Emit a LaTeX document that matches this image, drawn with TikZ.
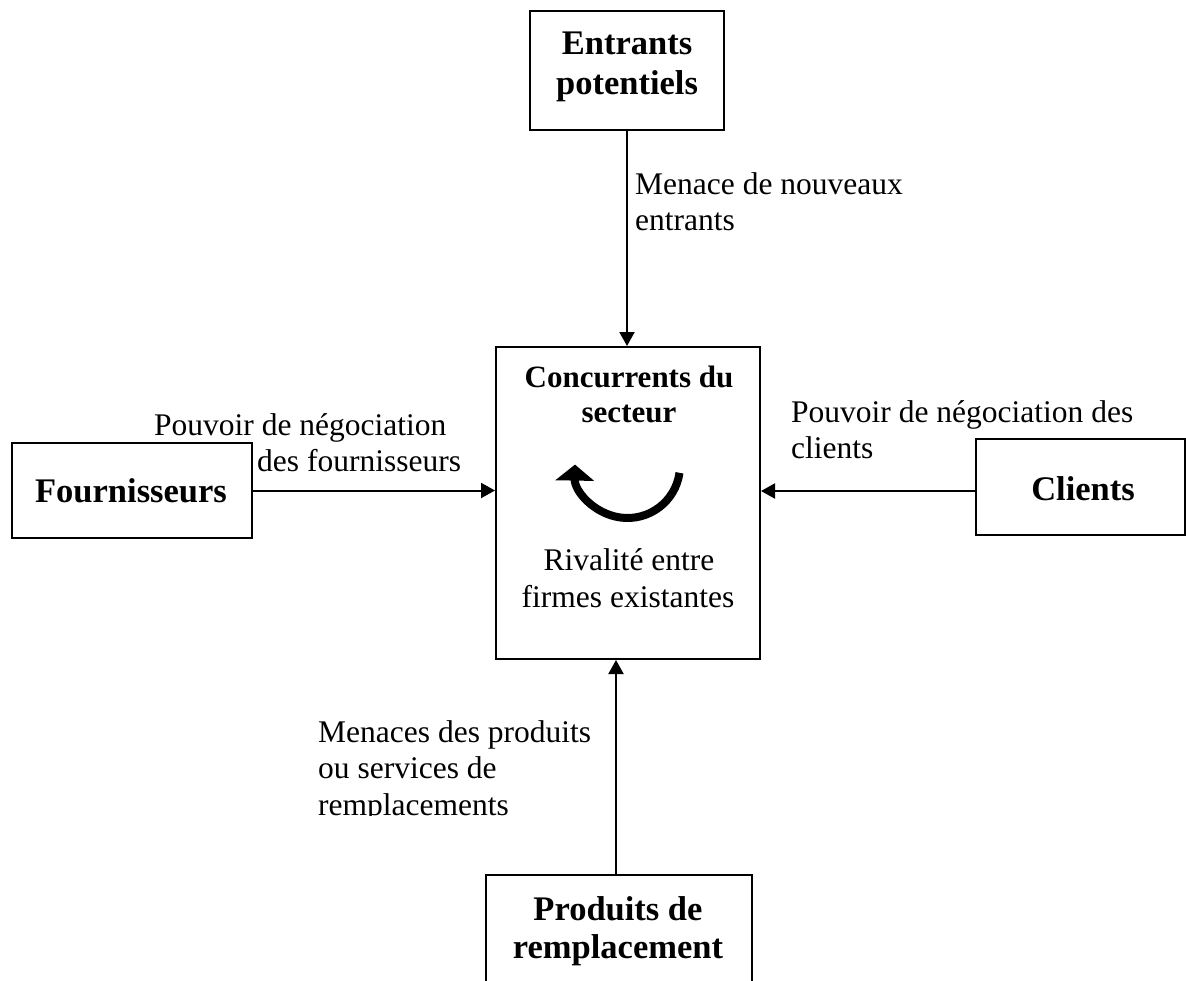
\documentclass[tikz,border=0pt]{standalone}
\usepackage{fontspec}
\setmainfont{Liberation Serif}
\usetikzlibrary{arrows.meta}
\begin{document}
\begin{tikzpicture}[x=1pt,y=-1pt,
  box/.style={draw, line width=2pt, inner sep=0pt},
  reg/.style={inner sep=0pt, anchor=base west, font=\fontsize{31.5}{36}\selectfont},
  regc/.style={inner sep=0pt, anchor=base, font=\fontsize{31.5}{36}\selectfont},
  head/.style={inner sep=0pt, anchor=base, font=\fontsize{34.5}{40}\selectfont\bfseries},
  headsmall/.style={inner sep=0pt, anchor=base, font=\fontsize{31}{36}\selectfont\bfseries},
  conn/.style={line width=2pt, -{Triangle[length=14pt,width=15pt]}}]
\useasboundingbox (0,0) rectangle (1186,980);

% boxes
\node[box, minimum width=194pt, minimum height=119pt] (ent) at (627,70.5) {};
\node[box, minimum width=264pt, minimum height=312pt] (conc) at (628,503) {};
\node[box, minimum width=240pt, minimum height=95pt] (four) at (132,490.5) {};
\node[box, minimum width=209pt, minimum height=96pt] (cli) at (1080.5,487) {};
\node[box, minimum width=266pt, minimum height=135pt] (prod) at (619,942.5) {};

% box texts
\node[head] (ent1) at (627,54) {Entrants};
\node[head] (ent2) at (627,94) {potentiels};
\node[headsmall] (conc1) at (629,387) {Concurrents du};
\node[headsmall] (conc2) at (629,422) {secteur};
\node[regc] (riv1) at (629,570) {Rivalité entre};
\node[regc] (riv2) at (628,607) {firmes existantes};
\node[head] (fourt) at (131,502) {Fournisseurs};
\node[head] (clit) at (1083,500) {Clients};
\node[head] (prod1) at (618,920) {Produits de};
\node[head] (prod2) at (618,958) {remplacement};

% rivalry arrow
\coordinate (rc) at (627.5,465.5);
\draw[line width=8pt, -{Triangle[length=16pt,width=38pt]}]
  (rc) ++(8:52.5) arc[start angle=8, end angle=181, radius=52.5];

% connectors
\draw[conn] (ent.south) -- (ent.south |- conc.north);
\draw[conn] (four.east) -- (four.east -| conc.west);
\draw[conn] ([yshift=-4pt]cli.west) -- ([yshift=-4pt]cli.west -| conc.east);
\draw[conn] ([xshift=-3pt]prod.north) -- ([xshift=-3pt]prod.north |- conc.south);

% labels
\node[reg] (l1a) at (635,194) {Menace de nouveaux};
\node[reg] (l1b) at (635,230) {entrants};
\node[reg] (l2a) at (154,435) {Pouvoir de négociation};
\node[reg] (l2b) at (257,471) {des fournisseurs};
\node[reg] (l3a) at (791,422) {Pouvoir de négociation des};
\node[reg] (l3b) at (791,458) {clients};
\begin{scope}
\clip (0,0) rectangle (1186,815);
\node[reg] (l4a) at (318,742) {Menaces des produits};
\node[reg] (l4b) at (318,778) {ou services de};
\node[reg] (l4c) at (318,815) {remplacements};
\end{scope}
\end{tikzpicture}
\end{document}
